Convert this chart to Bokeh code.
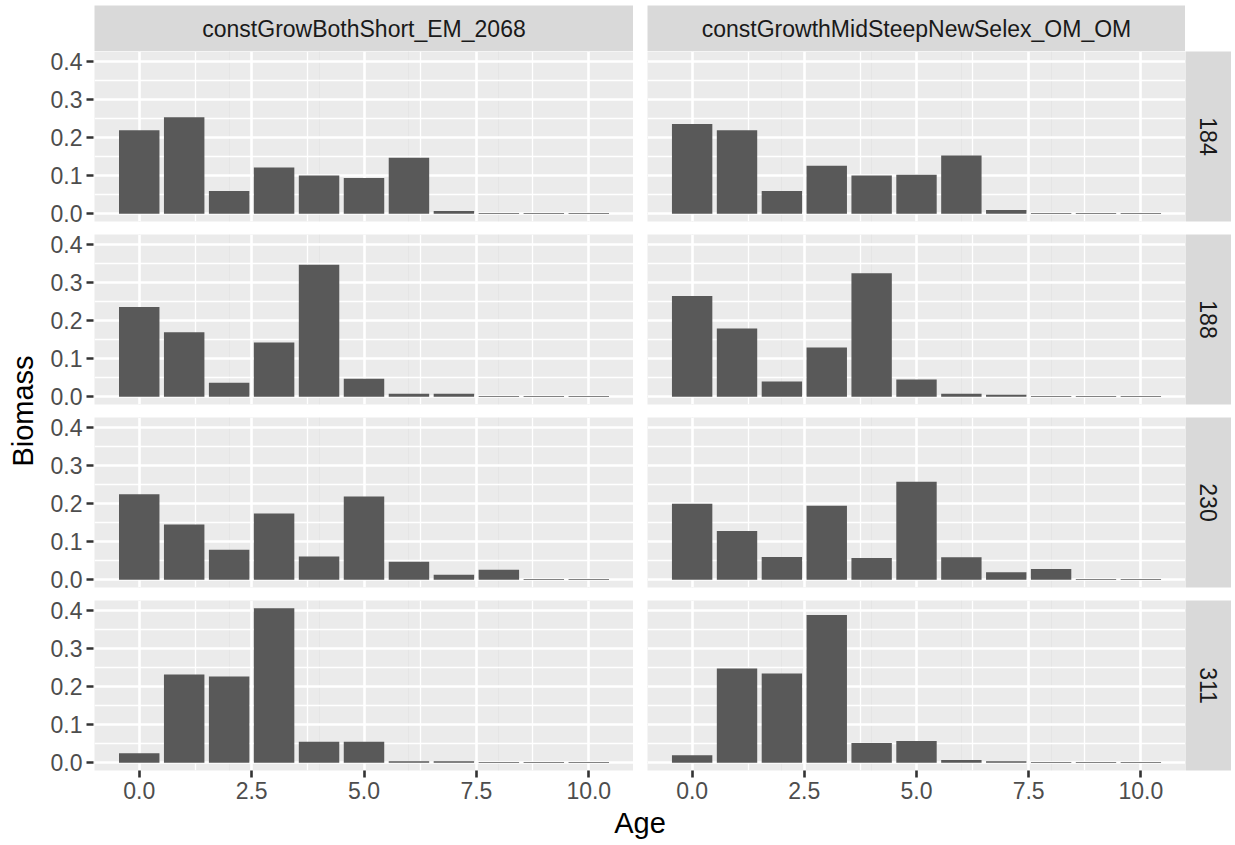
import numpy as np
from bokeh.plotting import figure
from bokeh.layouts import row, column
from bokeh.models import (Range1d, FixedTicker, PrintfTickFormatter, ColumnDataSource,
                          Grid, LinearAxis)
from bokeh.core.properties import value
from bokeh.embed import file_html
from bokeh.resources import INLINE

# ---- data -------------------------------------------------------------
ages = list(range(11))
scenarios = ["constGrowBothShort_EM_2068", "constGrowthMidSteepNewSelex_OM_OM"]
years = ["184", "188", "230", "311"]

em_184 = [0.219, 0.253, 0.060, 0.121, 0.100, 0.094, 0.147, 0.007, 0.002, 0.002, 0.002]
em_188 = [0.235, 0.169, 0.037, 0.142, 0.346, 0.047, 0.008, 0.008, 0.002, 0.002, 0.002]
em_230 = [0.224, 0.145, 0.079, 0.174, 0.061, 0.218, 0.047, 0.013, 0.026, 0.002, 0.002]
em_311 = [0.025, 0.231, 0.226, 0.405, 0.055, 0.055, 0.004, 0.004, 0.002, 0.002, 0.002]

om_184 = [0.235, 0.219, 0.060, 0.126, 0.100, 0.102, 0.153, 0.010, 0.002, 0.002, 0.002]
om_188 = [0.264, 0.179, 0.040, 0.129, 0.324, 0.045, 0.008, 0.005, 0.002, 0.002, 0.002]
om_230 = [0.199, 0.128, 0.060, 0.194, 0.057, 0.257, 0.059, 0.020, 0.028, 0.002, 0.002]
om_311 = [0.020, 0.247, 0.234, 0.387, 0.052, 0.057, 0.007, 0.004, 0.002, 0.002, 0.002]

x_major = [0, 2.5, 5, 7.5, 10]
x_minor = [1.25, 3.75, 6.25, 8.75]
y_major = [0.0, 0.1, 0.2, 0.3, 0.4]
y_minor = [0.05, 0.15, 0.25, 0.35]

series = {
    (0, 0): em_184, (0, 1): om_184,
    (1, 0): em_188, (1, 1): om_188,
    (2, 0): em_230, (2, 1): om_230,
    (3, 0): em_311, (3, 1): om_311,
}

# ---- styling ----------------------------------------------------------
FONT = "Liberation Sans"
PANEL_BG = "#EBEBEB"
STRIP_BG = "#D9D9D9"
BAR = "#595959"
BAR_W = 0.9

FRAME_W = [539, 538]
FRAME_H = 170
GAP_TOP, GAP_BOT = 6, 7          # panel spacing split around each row
LEFT_PAD = [0, 14]
AXIS_H = 36
STRIP_H = 46
TOP_PAD = 5

# shared scales with 5% expansion, bars included
xlo, xhi = min(ages) - BAR_W / 2, max(ages) + BAR_W / 2
xpad = 0.05 * (xhi - xlo)
ymax = max(max(v) for v in series.values())
ypad = 0.05 * ymax


def row_borders(r):
    top = 0 if r == 0 else GAP_TOP
    bottom = AXIS_H if r == len(years) - 1 else GAP_BOT
    return top, bottom


def blank(**kw):
    opts = dict(min_border_left=0, min_border_right=0,
                min_border_top=0, min_border_bottom=0)
    opts.update(kw)
    p = figure(output_backend="svg", toolbar_location=None,
               x_axis_location=None, y_axis_location=None,
               x_range=Range1d(0, 1), y_range=Range1d(0, 1), **opts)
    p.outline_line_color = None
    p.border_fill_color = "white"
    p.background_fill_color = "white"
    p.grid.visible = False
    return p


def style_axis(ax):
    ax.axis_line_color = None
    ax.major_tick_line_color = "#333333"
    ax.major_tick_line_width = 2.6
    ax.major_tick_out = 7
    ax.major_tick_in = 0
    ax.minor_tick_line_color = None
    ax.major_label_text_font = FONT
    ax.major_label_text_font_size = "23px"
    ax.major_label_text_color = "#4D4D4D"
    ax.major_label_standoff = 4
    ax.formatter = PrintfTickFormatter(format="%.1f")


def panel(r, c):
    top, bottom = row_borders(r)
    p = figure(output_backend="svg", toolbar_location=None,
               x_axis_location=None, y_axis_location=None,
               x_range=Range1d(xlo - xpad, xhi + xpad),
               y_range=Range1d(-ypad, ymax + ypad),
               frame_width=FRAME_W[c], frame_height=FRAME_H,
               min_border_left=LEFT_PAD[c], min_border_right=0,
               min_border_top=top, min_border_bottom=bottom)
    p.outline_line_color = None
    p.background_fill_color = PANEL_BG
    p.border_fill_color = "white"

    for dim, major, minor in ((0, x_major, x_minor), (1, y_major, y_minor)):
        g = Grid(dimension=dim, ticker=FixedTicker(ticks=major, minor_ticks=minor))
        g.grid_line_color = "white"
        g.grid_line_width = 2.6
        g.minor_grid_line_color = "white"
        g.minor_grid_line_width = 1.3
        p.add_layout(g)

    src = ColumnDataSource(dict(age=ages, biomass=series[(r, c)]))
    p.vbar(x="age", top="biomass", width=BAR_W, bottom=0, source=src,
           fill_color=BAR, line_color=None)

    if r == len(years) - 1:
        xa = LinearAxis(ticker=FixedTicker(ticks=x_major))
        style_axis(xa)
        p.add_layout(xa, "below")
    return p


def y_axis_fig(r):
    # narrow figure carrying one row's y axis; the first one also spans the strip row
    top, bottom = row_borders(r)
    if r == 0:
        top = TOP_PAD + STRIP_H
    p = blank(frame_width=1, frame_height=FRAME_H,
              min_border_left=53, min_border_top=top, min_border_bottom=bottom)
    p.y_range = Range1d(-ypad, ymax + ypad)
    ya = LinearAxis(ticker=FixedTicker(ticks=y_major))
    style_axis(ya)
    p.add_layout(ya, "left")
    return p


def row_strip(r, label):
    top, bottom = row_borders(r)
    s = blank(frame_width=46, frame_height=FRAME_H,
              min_border_top=top, min_border_bottom=bottom)
    s.background_fill_color = STRIP_BG
    s.text(x=[0.5], y=[0.5], text=[label], angle=-np.pi / 2, text_align="center",
           text_baseline="middle", text_font=value(FONT),
           text_font_size="23px", text_color="#1A1A1A")
    return s


def col_strip(c, label):
    s = blank(frame_width=FRAME_W[c], frame_height=STRIP_H,
              min_border_left=LEFT_PAD[c], min_border_top=TOP_PAD)
    s.background_fill_color = STRIP_BG
    s.text(x=[0.5], y=[0.5], text=[label], text_align="center",
           text_baseline="middle", text_font=value(FONT),
           text_font_size="23px", text_color="#1A1A1A")
    return s


n = len(years)

# y axis title
yl = blank(frame_width=36, min_border_left=4,
           frame_height=FRAME_H * n + (GAP_TOP + GAP_BOT) * (n - 1),
           min_border_bottom=AXIS_H, min_border_top=TOP_PAD + STRIP_H)
yl.text(x=[0.5], y=[0.5], text=["Biomass"], angle=np.pi / 2, text_align="center",
        text_baseline="middle", text_font=value(FONT),
        text_font_size="29px", text_color="black")

# x axis title
xl = blank(frame_width=sum(FRAME_W) + LEFT_PAD[1], frame_height=39)
xl.text(x=[0.5], y=[1.0], text=["Age"], text_align="center",
        text_baseline="top", text_font=value(FONT),
        text_font_size="29px", text_color="black")

y_axes = column([y_axis_fig(r) for r in range(n)], spacing=0)

rows = [row([col_strip(c, name) for c, name in enumerate(scenarios)], spacing=0)]
for r, yr in enumerate(years):
    rows.append(row([panel(r, c) for c in range(len(scenarios))] + [row_strip(r, yr)],
                    spacing=0))
rows.append(xl)
main = column(rows, spacing=0)

layout = row([yl, y_axes, main], spacing=0)

open("out.html", "w").write(file_html(layout, INLINE))
